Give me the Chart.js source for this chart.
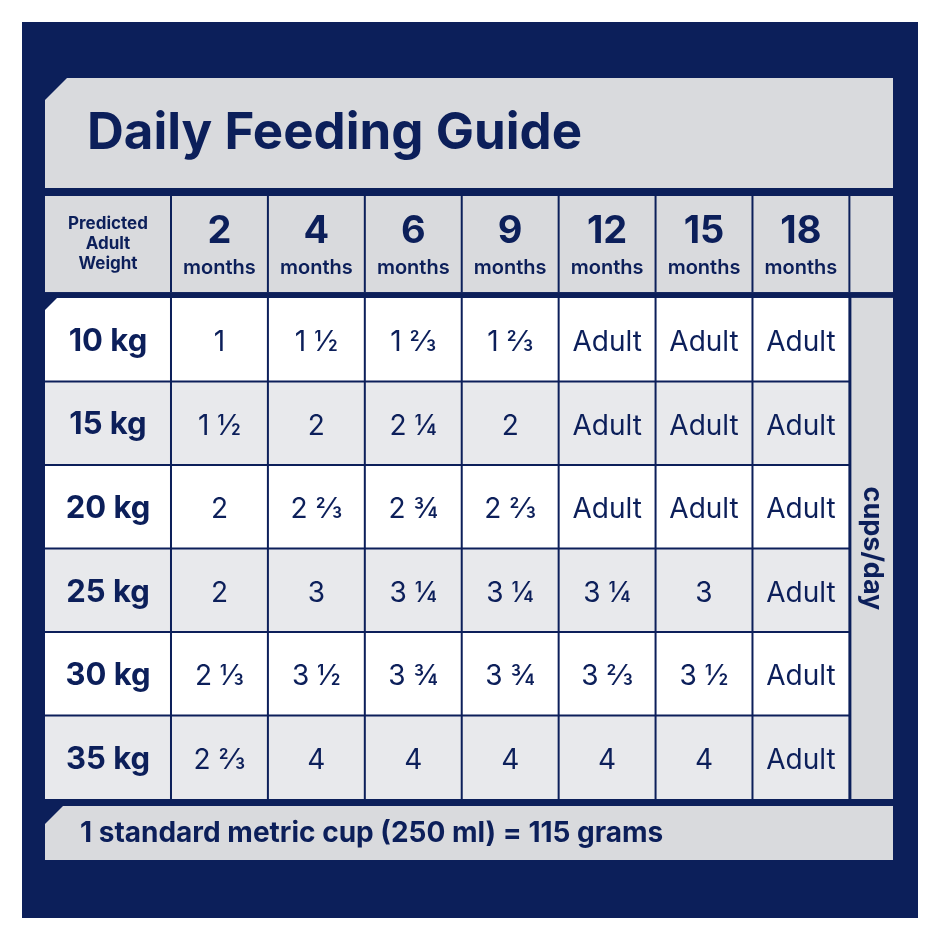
<!DOCTYPE html>
<html>
<head>
<meta charset="utf-8">
<script src="https://cdn.jsdelivr.net/npm/chart.js@4.4.0/dist/chart.umd.min.js"></script>
<style>
  html, body { margin: 0; padding: 0; background: #fff; }
  #wrap { width: 940px; height: 940px; }
</style>
</head>
<body>
<div id="wrap"><canvas id="guide" width="940" height="940"></canvas></div>
<script>
// Feeding guide data
const months = ['2', '4', '6', '9', '12', '15', '18'];
const weights = ['10 kg', '15 kg', '20 kg', '25 kg', '30 kg', '35 kg'];
const cups = [
    ['1', '1 ½', '1 ⅔', '1 ⅔', 'Adult', 'Adult', 'Adult'],
    ['1 ½', '2', '2 ¼', '2', 'Adult', 'Adult', 'Adult'],
    ['2', '2 ⅔', '2 ¾', '2 ⅔', 'Adult', 'Adult', 'Adult'],
    ['2', '3', '3 ¼', '3 ¼', '3 ¼', '3', 'Adult'],
    ['2 ⅓', '3 ½', '3 ¾', '3 ¾', '3 ⅔', '3 ½', 'Adult'],
    ['2 ⅔', '4', '4', '4', '4', '4', 'Adult']
];
const title = 'Daily Feeding Guide';
const footnote = '1 standard metric cup (250 ml) = 115 grams';
const unitLabel = 'cups/day';

const NAVY = '#0c1f5a';
const GRAY = '#d9dadd';
const LIGHT = '#e8e9ec';
const FONT = 'Inter, "Open Sans", sans-serif';

// one point per cell centre
const points = [];
cups.forEach((row, r) => row.forEach((v, c) => points.push({ x: c + 0.5, y: r + 0.5 })));

function chamferRect(ctx, x, y, w, h, cut, fill) {
    ctx.beginPath();
    ctx.moveTo(x + cut, y);
    ctx.lineTo(x + w, y);
    ctx.lineTo(x + w, y + h);
    ctx.lineTo(x, y + h);
    ctx.lineTo(x, y + cut);
    ctx.closePath();
    ctx.fillStyle = fill;
    ctx.fill();
}

const tablePlugin = {
    id: 'tablePlugin',
    beforeDraw(chart) {
        const ctx = chart.ctx;
        ctx.save();
        ctx.fillStyle = '#fff';
        ctx.fillRect(0, 0, 940, 940);
        ctx.fillStyle = NAVY;
        ctx.fillRect(22, 22, 896, 896);

        const area = chart.chartArea;
        // title band
        chamferRect(ctx, area.left, 78, area.right - area.left, 110, 22, GRAY);
        ctx.fillStyle = NAVY;
        ctx.font = 'bold 51px ' + FONT;
        ctx.textBaseline = 'middle';
        ctx.textAlign = 'left';
        ctx.fillText(title, 87, 134);
        // footer band
        chamferRect(ctx, area.left, 806, area.right - area.left, 54, 18, GRAY);
        ctx.fillStyle = NAVY;
        ctx.font = 'bold 28px ' + FONT;
        ctx.fillText(footnote, 80, 834);
        ctx.restore();
    },
    afterDatasetsDraw(chart) {
        const ctx = chart.ctx;
        const xs = chart.scales.x, ys = chart.scales.y;
        const px = v => xs.getPixelForValue(v);
        const py = v => ys.getPixelForValue(v);
        ctx.save();
        ctx.textAlign = 'center';
        ctx.textBaseline = 'middle';

        // header row
        const hTop = py(-1.22), hBot = py(-0.07);
        ctx.fillStyle = GRAY;
        ctx.fillRect(px(-1.3), hTop, px(7.45) - px(-1.3), hBot - hTop);
        ctx.fillStyle = NAVY;
        ctx.font = 'bold 17px ' + FONT;
        const hMid = (hTop + hBot) / 2;
        ['Predicted', 'Adult', 'Weight'].forEach((t, i) => ctx.fillText(t, px(-0.65), hMid - 20 + i * 20));
        months.forEach((m, c) => {
            const cx = px(c + 0.5);
            ctx.font = 'bold 38px ' + FONT;
            ctx.fillText(m, cx, hMid - 12);
            ctx.font = '600 20px ' + FONT;
            ctx.fillText('months', cx, hMid + 24);
        });
        ctx.strokeStyle = NAVY;
        ctx.lineWidth = 2;
        for (let c = 0; c <= 7; c++) {
            ctx.beginPath();
            ctx.moveTo(px(c), hTop);
            ctx.lineTo(px(c), hBot);
            ctx.stroke();
        }

        // body rows
        weights.forEach((w, r) => {
            const top = py(r), bot = py(r + 1);
            const bg = r % 2 === 0 ? '#ffffff' : LIGHT;
            if (r === 0) {
                chamferRect(ctx, px(-1.3), top, px(7) - px(-1.3), bot - top, 12, bg);
            } else {
                ctx.fillStyle = bg;
                ctx.fillRect(px(-1.3), top, px(7) - px(-1.3), bot - top);
            }
            ctx.fillStyle = NAVY;
            ctx.font = 'bold 31px ' + FONT;
            ctx.fillText(w, px(-0.65), (top + bot) / 2 + 2);
        });
        ctx.font = '28px ' + FONT;
        chart.data.datasets[0].data.forEach((p, i) => {
            const r = Math.floor(i / months.length), c = i % months.length;
            ctx.fillText(cups[r][c], px(p.x), py(p.y) + 3);
        });
        ctx.strokeStyle = NAVY;
        ctx.lineWidth = 2;
        for (let c = 0; c <= 7; c++) {
            ctx.beginPath();
            ctx.moveTo(px(c), py(0));
            ctx.lineTo(px(c), py(6));
            ctx.stroke();
        }
        for (let r = 1; r < 6; r++) {
            ctx.beginPath();
            ctx.moveTo(px(-1.3), py(r));
            ctx.lineTo(px(7), py(r));
            ctx.stroke();
        }

        // unit column
        const uL = px(7) + 2, uR = px(7.45);
        ctx.fillStyle = GRAY;
        ctx.fillRect(uL, py(0), uR - uL, py(6) - py(0));
        ctx.save();
        ctx.translate((uL + uR) / 2, (py(0) + py(6)) / 2);
        ctx.rotate(Math.PI / 2);
        ctx.fillStyle = NAVY;
        ctx.font = 'bold 27px ' + FONT;
        ctx.fillText(unitLabel, 0, 0);
        ctx.restore();
        ctx.restore();
    }
};

new Chart(document.getElementById('guide').getContext('2d'), {
    type: 'scatter',
    data: {
        datasets: [{ data: points, pointRadius: 0, pointHoverRadius: 0 }]
    },
    options: {
        responsive: false,
        animation: false,
        events: [],
        layout: { padding: { left: 45, right: 47, top: 196, bottom: 141 } },
        plugins: { legend: { display: false }, tooltip: { enabled: false } },
        scales: {
            x: { type: 'linear', min: -1.3, max: 7.45, display: false },
            y: { type: 'linear', min: -1.22, max: 6, reverse: true, display: false }
        }
    },
    plugins: [tablePlugin]
});
</script>
</body>
</html>
